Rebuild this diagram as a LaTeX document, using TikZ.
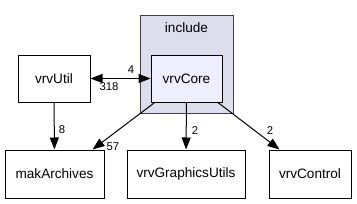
\documentclass[tikz,border=0pt]{standalone}
\usepackage{fontspec}
\setmainfont{Liberation Sans}
\usepackage{tikz}
\usetikzlibrary{arrows.meta}

\definecolor{clusterfill}{HTML}{DDDDEE}
\definecolor{clusterdraw}{HTML}{404040}
\definecolor{corefill}{HTML}{EEEEFF}

\tikzset{
  dirbox/.style={draw, line width=1pt, minimum width=#1, minimum height=47pt, inner sep=0pt,
    font=\fontsize{13.6}{16}\selectfont},
  dep/.style={line width=1pt, -{Triangle[length=12pt,width=9pt]}},
  cnt/.style={inner sep=0pt, font=\fontsize{11.3}{13}\selectfont}
}

\begin{document}
\begin{tikzpicture}[x=1pt,y=-1pt]
				\useasboundingbox (0,0) rectangle (357,204);
				% cluster
				\draw[fill=clusterfill, draw=clusterdraw, line width=1pt] (140,15) rectangle (233,113);
				\node[font=\fontsize{13.6}{16}\selectfont] (inc) at (186.5,28) {include};
				% directories
				\node[dirbox=71pt, fill=corefill] (vrvCore) at (186.5,78.5) {vrvCore};
				\node[dirbox=72pt, fill=white] (vrvUtil) at (54,78.5) {vrvUtil};
				\node[dirbox=99pt, minimum height=48pt] (makArchives) at (54.5,174) {makArchives};
				\node[dirbox=118pt, minimum height=48pt] (vrvGraphicsUtils) at (186,174) {vrvGraphicsUtils};
				\node[dirbox=82pt, minimum height=48pt] (vrvControl) at (310,174) {vrvControl};
				% dependencies
				\draw[line width=1pt, {Triangle[length=12pt,width=9pt]}-{Triangle[length=12pt,width=9pt]}] (vrvUtil) -- (vrvCore);
				\draw[dep] (vrvUtil) -- (makArchives);
				\draw[dep] (vrvCore) -- ([xshift=-12pt]makArchives.north east);
				\draw[dep] (vrvCore) -- (vrvGraphicsUtils);
				\draw[dep] (vrvCore) -- ([xshift=11pt]vrvControl.north west);
				% counts
				\node[cnt] (n4) at (131,70) {4};
				\node[cnt] (n318) at (109,87) {318};
				\node[cnt] (n8) at (62,130) {8};
				\node[cnt] (n57) at (113,147) {57};
				\node[cnt] (n2a) at (195,131) {2};
				\node[cnt] (n2b) at (270,131) {2};
			\end{tikzpicture}
\end{document}
